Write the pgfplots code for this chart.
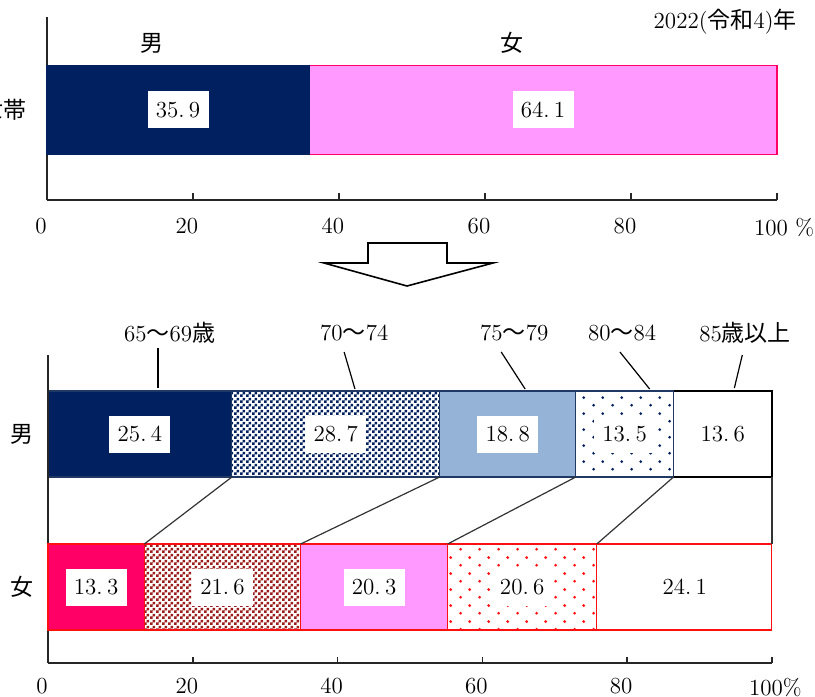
\documentclass[border=0pt]{standalone}
\usepackage{fontspec}
\usepackage{pgfplots}
\pgfplotsset{compat=1.18}
\usetikzlibrary{patterns}
\newfontfamily\jp{Noto Sans CJK JP}
\definecolor{navy}{HTML}{002060}
\definecolor{mborder}{HTML}{1F3864}
\definecolor{lblue}{HTML}{95B3D7}
\definecolor{pinkl}{HTML}{FF99FF}
\definecolor{crimp}{HTML}{FF0066}
\definecolor{maroonc}{HTML}{9C1C1C}
\definecolor{redb}{HTML}{FF1010}
\pgfdeclarepatternformonly{finecheck}{\pgfpointorigin}{\pgfpoint{3pt}{3pt}}{\pgfpoint{3pt}{3pt}}{%
  \pgfpathrectangle{\pgfpointorigin}{\pgfpoint{1.5pt}{1.5pt}}%
  \pgfpathrectangle{\pgfpoint{1.5pt}{1.5pt}}{\pgfpoint{1.5pt}{1.5pt}}%
  \pgfusepath{fill}}
\pgfdeclarepatternformonly{sparsedots}{\pgfpointorigin}{\pgfpoint{9.5pt}{8pt}}{\pgfpoint{9.5pt}{8pt}}{%
  \pgfpathcircle{\pgfpoint{2.4pt}{2pt}}{0.8pt}%
  \pgfpathcircle{\pgfpoint{7.15pt}{6pt}}{0.8pt}%
  \pgfusepath{fill}}
\tikzset{vbox/.style={fill=white, inner sep=0pt, minimum width=30.5pt, minimum height=18.5pt}}
\newcommand\val[2]{#1.\hspace{2.2pt}#2}
\pgfplotsset{bstyle/.style={at={(24pt,-331.5pt)}, anchor=south west, scale only axis,
  width=362pt, height=154pt, xmin=0, xmax=100, ymin=0, ymax=308, enlargelimits=false,
  xbar stacked, bar width=43pt, clip=false}}
\begin{document}
\fontsize{11.5}{13.8}\selectfont
\begin{tikzpicture}
% ---------------- top chart ----------------
\begin{axis}[at={(23.5pt,-100pt)}, anchor=south west, scale only axis,
  width=365pt, height=91.5pt, xmin=0, xmax=100, ymin=0, ymax=1, enlargelimits=false,
  xbar stacked, bar width=44.5pt, axis lines=left,
  axis line style={-, line width=0.8pt, black!85},
  xtick={0,20,40,60,80,100}, xticklabels={0,20,40,60,80,{100\rlap{\ \%}}},
  ytick=\empty, tick align=inside, major tick length=3.5pt,
  tick style={line width=0.8pt, black!85},
  xticklabel style={yshift=-5pt, xshift=-3pt}, clip=false,
  after end axis/.code={
    \node[vbox] at (axis cs:17.95,0.492) {\val{35}{9}};
    \node[vbox] at (axis cs:67.95,0.492) {\val{64}{1}};
  }]
\addplot[fill=navy, draw=navy, line width=0.5pt] coordinates {(35.9,0.492)};
\addplot[fill=pinkl, draw=crimp, line width=0.7pt] coordinates {(64.1,0.492)};
\end{axis}
% ---------------- bottom chart: male ----------------
\begin{axis}[bstyle, hide axis]
\addplot[fill=navy, draw=mborder, line width=0.6pt] coordinates {(25.4,229)};
\addplot[fill=white, draw=mborder, line width=0.6pt,
  postaction={pattern=finecheck, pattern color=navy}] coordinates {(28.7,229)};
\addplot[fill=lblue, draw=mborder, line width=0.6pt] coordinates {(18.8,229)};
\addplot[fill=white, draw=mborder, line width=0.6pt,
  postaction={pattern=sparsedots, pattern color=navy}] coordinates {(13.5,229)};
\addplot[fill=white, draw=black, line width=0.6pt] coordinates {(13.6,229)};
\end{axis}
% ---------------- bottom chart: female + axes ----------------
\begin{axis}[bstyle, axis lines=left,
  axis line style={-, line width=0.8pt, black!85},
  xtick={0,20,40,60,80,100}, xticklabels={0,20,40,60,80,{100\rlap{\%}}},
  ytick=\empty, tick align=inside, major tick length=3pt,
  tick style={line width=0.8pt, black!85},
  xticklabel style={yshift=-3.5pt, xshift=-3pt},
  after end axis/.code={
    \node[vbox] at (axis cs:12.7,229) {\val{25}{4}};
    \node[vbox] at (axis cs:39.75,229) {\val{28}{7}};
    \node[vbox] at (axis cs:63.5,229) {\val{18}{8}};
    \node[vbox] at (axis cs:79.65,229) {\val{13}{5}};
    \node[vbox] at (axis cs:93.2,229) {\val{13}{6}};
    \node[vbox] at (axis cs:6.65,76) {\val{13}{3}};
    \node[vbox] at (axis cs:24.1,76) {\val{21}{6}};
    \node[vbox] at (axis cs:45.05,76) {\val{20}{3}};
    \node[vbox] at (axis cs:65.5,76) {\val{20}{6}};
    \node[vbox] at (axis cs:87.95,76) {\val{24}{1}};
    \draw[line width=0.6pt, black!80] (axis cs:25.4,186) -- (axis cs:13.3,119);
    \draw[line width=0.6pt, black!80] (axis cs:54.1,186) -- (axis cs:34.9,119);
    \draw[line width=0.6pt, black!80] (axis cs:72.9,186) -- (axis cs:55.2,119);
    \draw[line width=0.6pt, black!80] (axis cs:86.4,186) -- (axis cs:75.8,119);
    \draw[line width=0.6pt, black!80] (axis cs:100,186) -- (axis cs:100,119);
    \draw[line width=0.6pt] (axis cs:15.2,315) -- (axis cs:15.2,275);
    \draw[line width=0.6pt] (axis cs:40.9,311) -- (axis cs:42.4,274);
    \draw[line width=0.6pt] (axis cs:62.6,311) -- (axis cs:65.9,274);
    \draw[line width=0.6pt] (axis cs:79.0,311) -- (axis cs:83.1,274);
    \draw[line width=0.6pt] (axis cs:95.9,308) -- (axis cs:94.8,275);
    \node at (axis cs:16.8,330) {65{\jp ～}69{\jp 歳}};
    \node at (axis cs:42.3,330) {70{\jp ～}74};
    \node at (axis cs:64.4,330) {75{\jp ～}79};
    \node at (axis cs:79.3,330) {80{\jp ～}84};
    \node at (axis cs:96.3,330) {85{\jp 歳以上}};
  }]
\addplot[fill=crimp, draw=redb, line width=0.6pt] coordinates {(13.3,76)};
\addplot[fill=white, draw=redb, line width=0.6pt,
  postaction={pattern=finecheck, pattern color=maroonc}] coordinates {(21.6,76)};
\addplot[fill=pinkl, draw=redb, line width=0.6pt] coordinates {(20.3,76)};
\addplot[fill=white, draw=redb, line width=0.6pt,
  postaction={pattern=sparsedots, pattern color=redb}] coordinates {(20.6,76)};
\addplot[fill=white, draw=redb, line width=0.6pt] coordinates {(24.1,76)};
\end{axis}
% ---------------- texts around ----------------
\node[anchor=east, inner sep=0pt] at (13.5pt,-55pt) {\jp 単独世帯};
\node at (76pt,-21.5pt) {\jp 男};
\node at (256pt,-21.5pt) {\jp 女};
\node[anchor=east, inner sep=0pt] at (398.5pt,-11pt) {2022({\jp 令和}4){\jp 年}};
\node at (11pt,-217pt) {\jp 男};
\node at (11pt,-293.5pt) {\jp 女};
% arrow
\draw[line width=0.8pt, fill=white, line join=miter]
  (184pt,-121.5pt) -- (223.5pt,-121.5pt) -- (223.5pt,-131.5pt) -- (246.5pt,-131.5pt)
  -- (203.5pt,-143pt) -- (162pt,-131.5pt) -- (184pt,-131.5pt) -- cycle;
\pgfresetboundingbox
\useasboundingbox (0,0) rectangle (407.5pt,-348.5pt);
\end{tikzpicture}
\end{document}
